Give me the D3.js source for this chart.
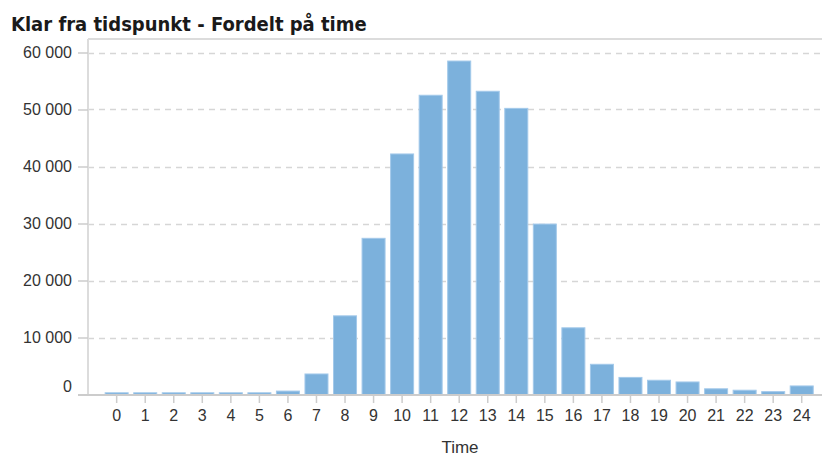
<!DOCTYPE html>
<html lang="no">
<head>
  <meta charset="UTF-8">
  <title>Klar fra tidspunkt - Fordelt på time</title>
  <script src="https://d3js.org/d3.v7.min.js"></script>
  <style>
    body { margin: 0; background: #fff; }
    svg { display: block; }
    .title { font-family: "DejaVu Sans Condensed", "DejaVu Sans", sans-serif; font-weight: bold; font-size: 20px; fill: #1a1a1a; }
    .tick text { font-family: "Liberation Sans", Arial, sans-serif; font-size: 16px; fill: #333; }
    .axis-title { font-family: "Liberation Sans", Arial, sans-serif; font-size: 17px; fill: #333; }
  </style>
</head>
<body>
<svg id="chart" width="822" height="456"></svg>
<script>
// timer 0-24 og antall per time
const hours = d3.range(0, 25).map(String);
const counts = [300, 300, 300, 300, 300, 300, 600, 3600, 13800, 27400, 42200, 52500, 58500, 53200, 50200,
                29900, 11700, 5300, 3000, 2500, 2200, 1000, 750, 500, 1500];
const yTicks = [0, 10000, 20000, 30000, 40000, 50000, 60000];

const width = 822, height = 456;
const plot = { left: 88, top: 39, right: 822, bottom: 395 };

const svg = d3.select("#chart");
const nb = d3.formatLocale({ decimal: ",", thousands: " ", grouping: [3], currency: ["", " kr"] });
const fmt = nb.format(",d");

const x = d3.scaleBand()
  .domain(hours)
  .range([102.4, 816])
  .paddingInner(0.194)
  .paddingOuter(0.097);

const y = d3.scaleLinear()
  .domain([0, 60000])
  .range([394.5, 52.5]);

// tittel
svg.append("text")
  .attr("class", "title")
  .attr("x", 11)
  .attr("y", 31)
  .text("Klar fra tidspunkt - Fordelt på time");

// rutenett
svg.append("g")
  .selectAll("line")
  .data(yTicks.filter(d => d > 0))
  .join("line")
  .attr("x1", plot.left)
  .attr("x2", plot.right)
  .attr("y1", d => Math.round(y(d)) + 0.5)
  .attr("y2", d => Math.round(y(d)) + 0.5)
  .attr("stroke", "#d6d6d6")
  .attr("stroke-width", 1.5)
  .attr("stroke-dasharray", "6,5");

// ramme topp og venstre
svg.append("line")
  .attr("x1", plot.left).attr("x2", plot.right)
  .attr("y1", plot.top).attr("y2", plot.top)
  .attr("stroke", "#dcdcdc").attr("stroke-width", 2);
svg.append("line")
  .attr("x1", plot.left).attr("x2", plot.left)
  .attr("y1", plot.top).attr("y2", plot.bottom)
  .attr("stroke", "#dcdcdc").attr("stroke-width", 2);

// søyler
svg.append("g")
  .selectAll("rect")
  .data(counts)
  .join("rect")
  .attr("x", (d, i) => x(hours[i]))
  .attr("width", x.bandwidth())
  .attr("y", d => y(d))
  .attr("height", d => y(0) - y(d))
  .attr("fill", "#7cb1dc")
  .attr("stroke", "#a3c9ea")
  .attr("stroke-width", 1);

// y-akse
const yAxis = svg.append("g")
  .attr("transform", `translate(${plot.left},0)`)
  .call(d3.axisLeft(y).tickValues(yTicks).tickSize(10).tickPadding(6).tickFormat(fmt));
yAxis.select(".domain").remove();
yAxis.selectAll(".tick line").attr("stroke", "#cccccc").attr("stroke-width", 1.5);
yAxis.selectAll(".tick").filter(d => d === 0).select("text").attr("dy", "-0.18em");

// x-akse
const xAxis = svg.append("g")
  .attr("transform", `translate(0,${plot.bottom})`)
  .call(d3.axisBottom(x).tickSize(8).tickPadding(7));
xAxis.select(".domain")
  .attr("d", `M78,0H${plot.right}`)
  .attr("stroke", "#cccccc").attr("stroke-width", 2);
xAxis.selectAll(".tick line").attr("stroke", "#cccccc").attr("stroke-width", 1.5);

svg.append("text")
  .attr("class", "axis-title")
  .attr("x", 460)
  .attr("y", 453)
  .attr("text-anchor", "middle")
  .text("Time");
</script>
</body>
</html>
